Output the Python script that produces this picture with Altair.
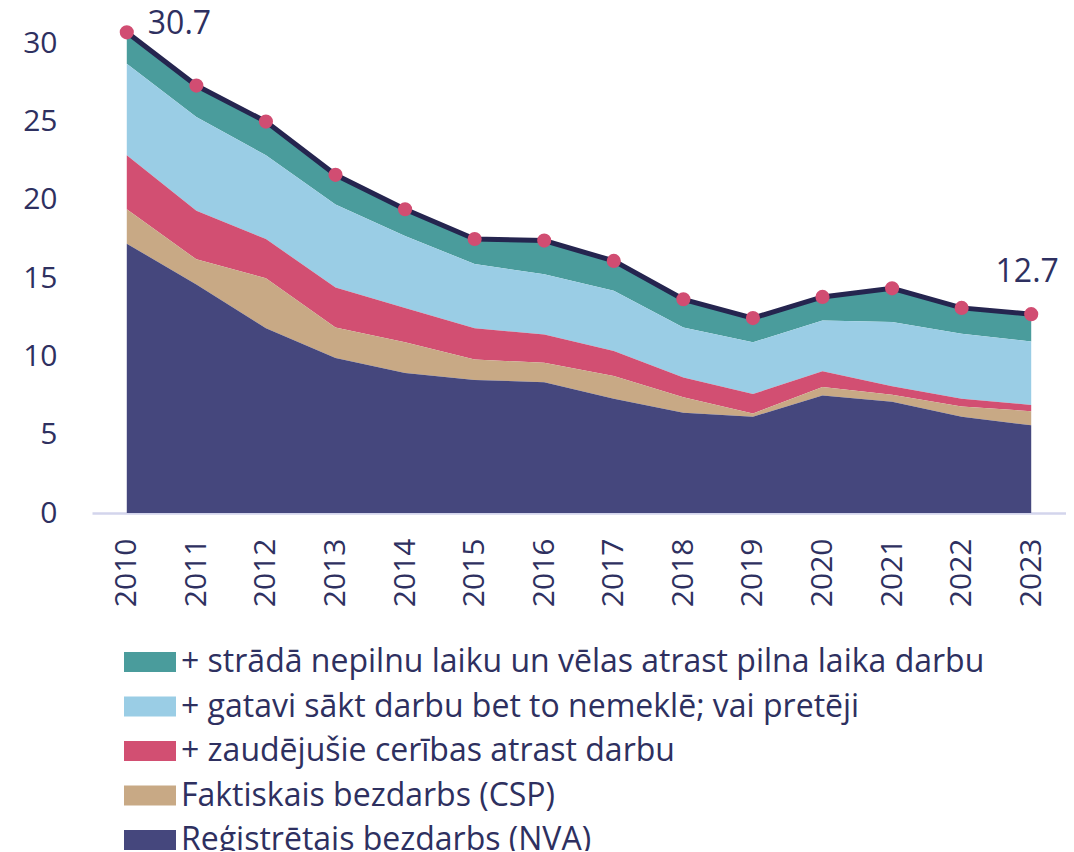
import altair as alt
import pandas as pd

years = [2010, 2011, 2012, 2013, 2014, 2015, 2016, 2017, 2018, 2019, 2020, 2021, 2022, 2023]
# cumulative levels (stack tops)
nva = [17.2, 14.6, 11.8, 9.9, 8.95, 8.5, 8.35, 7.3, 6.4, 6.15, 7.5, 7.1, 6.15, 5.6]
csp = [19.4, 16.2, 15.0, 11.85, 10.9, 9.8, 9.6, 8.75, 7.4, 6.35, 8.05, 7.55, 6.8, 6.5]
discouraged = [22.85, 19.3, 17.5, 14.4, 13.1, 11.8, 11.4, 10.35, 8.65, 7.6, 9.05, 8.1, 7.3, 6.9]
ready = [28.7, 25.3, 22.85, 19.7, 17.7, 15.9, 15.25, 14.2, 11.85, 10.9, 12.3, 12.2, 11.45, 10.95]
total = [30.7, 27.3, 25.0, 21.6, 19.4, 17.5, 17.4, 16.1, 13.65, 12.45, 13.8, 14.35, 13.1, 12.7]

series_names = [
    "+ strādā nepilnu laiku un vēlas atrast pilna laika darbu",
    "+ gatavi sākt darbu bet to nemeklē; vai pretēji",
    "+ zaudējušie cerības atrast darbu",
    "Faktiskais bezdarbs (CSP)",
    "Reģistrētais bezdarbs (NVA)",
]
series_colors = ["#4a9c9c", "#9acde5", "#d24f72", "#c8a985", "#45477d"]

TEXT = "#2e3060"
FONT = "Open Sans"

zero = [0.0] * len(years)
levels = [total, ready, discouraged, csp, nva, zero]
rows = []
for i, name in enumerate(series_names):
    for j, yr in enumerate(years):
        rows.append({"year": str(yr), "series": name, "hi": levels[i][j], "lo": levels[i + 1][j]})
area_df = pd.DataFrame(rows)
tot_df = pd.DataFrame({"year": [str(y) for y in years], "total": total})

x_enc = alt.X("year:O", scale=alt.Scale(type="point", padding=0.5),
              axis=alt.Axis(title=None, labelAngle=270, labelAlign="right", labelBaseline="middle",
                            labelPadding=25, ticks=False, domain=True, domainColor="#d3d5ec",
                            domainWidth=2.5, labelFontSize=30, labelColor=TEXT, labelFont=FONT))
y_scale = alt.Scale(domain=[0, 32], nice=False)

areas = alt.Chart(area_df).mark_area(opacity=1).encode(
    x=x_enc,
    y=alt.Y("hi:Q", scale=y_scale,
            axis=alt.Axis(title=None, values=[0, 5, 10, 15, 20, 25, 30], grid=False, domain=False,
                          ticks=False, labelPadding=35, labelFontSize=30, labelColor=TEXT, labelFont=FONT)),
    y2="lo:Q",
    color=alt.Color("series:N", scale=alt.Scale(domain=series_names, range=series_colors),
                    legend=alt.Legend(title=None, orient="none", legendX=32, legendY=624,
                                      direction="vertical",
                                      symbolType="M-1,-0.385L1,-0.385L1,0.385L-1,0.385Z",
                                      symbolSize=2704, symbolStrokeWidth=0, symbolOpacity=1,
                                      labelFontSize=32, labelFont=FONT, labelColor=TEXT,
                                      labelOffset=5, rowPadding=2.5, labelLimit=1000)),
    order=alt.Order("series:N"),
)

line = alt.Chart(tot_df).mark_line(color="#25254f", strokeWidth=5).encode(
    x="year:O", y=alt.Y("total:Q", scale=y_scale))
dots = alt.Chart(tot_df).mark_circle(color="#d14d72", size=200, opacity=1).encode(
    x="year:O", y=alt.Y("total:Q", scale=y_scale))

first_lbl = alt.Chart(tot_df).transform_filter(alt.datum.year == str(years[0])).mark_text(
    align="left", baseline="alphabetic", dx=21, dy=2, fontSize=32, font=FONT, color=TEXT
).encode(x="year:O", y=alt.Y("total:Q", scale=y_scale), text=alt.Text("total:Q", format=".1f"))
last_lbl = alt.Chart(tot_df).transform_filter(alt.datum.year == str(years[-1])).mark_text(
    align="center", baseline="alphabetic", dx=-4, dy=-32, fontSize=32, font=FONT, color=TEXT
).encode(x="year:O", y=alt.Y("total:Q", scale=y_scale), text=alt.Text("total:Q", format=".1f"))

chart = alt.layer(areas, line, dots, first_lbl, last_lbl).properties(
    width=974, height=501,
    background="white",
    autosize=alt.AutoSizeParams(type="none"),
    padding={"left": 84, "top": 4, "right": 0, "bottom": 338},
).configure_view(strokeWidth=0, stroke="transparent")

chart.save("out.html", embed_options={"renderer": "svg", "actions": False})
